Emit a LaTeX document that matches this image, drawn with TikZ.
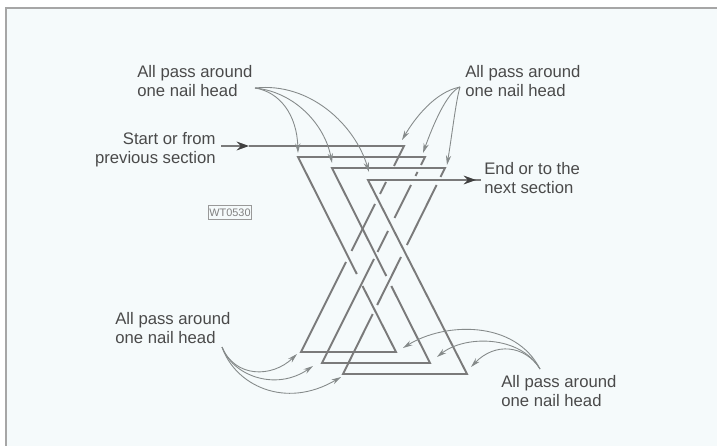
\documentclass[tikz,border=0pt]{standalone}
\usepackage{fontspec}
\setmainfont{Liberation Sans}
\usetikzlibrary{arrows.meta}
\definecolor{paper}{HTML}{F5FAFB}
\definecolor{wirecol}{HTML}{7A7A7A}
\definecolor{pointercol}{HTML}{858A8A}
\definecolor{inkcol}{HTML}{4A4A4A}

\begin{document}
\begin{tikzpicture}[
    x=0.02cm, y=-0.02cm,
    >=Stealth, % Set default arrow tip style
    wire/.style={wirecol, line width=1.1pt, line join=miter}, % Style for the wire
    leadwire/.style={wire, -{Stealth[length=7pt, width=5pt, color=black!75]}}, % Wire with arrow
    pointer/.style={pointercol, line width=0.5pt, -{Stealth[length=5.5pt, width=3pt]}}, % Style for the thin curves
    labelstyle/.style={inkcol, inner sep=0pt, font=\fontsize{9.5}{10.8}\selectfont}, % Style for the notes
    tagstyle/.style={draw=black!40, line width=0.6pt, text=black!50, inner xsep=0.6pt, inner ysep=1.8pt, font=\fontsize{6.2}{7}\selectfont} % Style for the code box
]

    % Paper
    \useasboundingbox (0,0) rectangle (717,446);
    \fill[white] (0,0) rectangle (717,446);
    \fill[paper] (6,8) rectangle (717,446);
    \draw[black!35, line width=0.7pt] (717,8) -- (6,8) -- (6,446);

    % Labels
    \node[labelstyle, align=left, anchor=west] (topleft) at (137,81.5) {All pass around\\one nail head};
    \node[labelstyle, align=left, anchor=west] (topright) at (465,81.5) {All pass around\\one nail head};
    \node[labelstyle, align=right, anchor=east] (startnote) at (216,149.5) {Start or from\\previous section};
    \node[labelstyle, align=left, anchor=west] (endnote) at (484,178) {End or to the\\next section};
    \node[labelstyle, align=left, anchor=west] (bottomleft) at (115,328.5) {All pass around\\one nail head};
    \node[labelstyle, align=left, anchor=west] (bottomright) at (501,391) {All pass around\\one nail head};
    \node[tagstyle] (code) at (230,212.5) {WT0530};

    % Free ends of the curves
    \coordinate (tltip) at (255,88);
    \coordinate (trtip) at (460,87);
    \coordinate (bltip) at (222,347);
    \coordinate (brtip) at (540,369);

    % Nail heads
    \coordinate (tl1) at (298,153);
    \coordinate (tl2) at (332,163);
    \coordinate (tl3) at (369,172);
    \coordinate (tr1) at (402,140);
    \coordinate (tr2) at (423,153);
    \coordinate (tr3) at (447,165);
    \coordinate (bl1) at (297,354);
    \coordinate (bl2) at (313,366);
    \coordinate (bl3) at (341,377);
    \coordinate (br1) at (403,348);
    \coordinate (br2) at (437,357);
    \coordinate (br3) at (471,367);

    % The wire, piece by piece
    \draw[leadwire] (221,146) -- (249,146);
    \draw[wire] (249,146) -- (404,146) -- (394,166);
    \draw[wire] (386,182) -- (380,194);
    \draw[wire] (375,204) -- (351.5,251);
    \draw[wire] (346,262) -- (301,352) -- (396,352) -- (362.5,286);
    \draw[wire] (356.8,274) -- (298,157) -- (425,157) -- (421,165);
    \draw[wire] (417.5,172) -- (415.5,176);
    \draw[wire] (411,185) -- (394.5,218);
    \draw[wire] (388,231) -- (377.5,252);
    \draw[wire] (374,259) -- (322,363) -- (430,363) -- (391.3,286);
    \draw[wire] (386.3,276) -- (332,168) -- (445,168) -- (440.5,177);
    \draw[wire] (436.6,185) -- (406.9,245);
    \draw[wire] (401,257) -- (377.2,305);
    \draw[wire] (372.7,314) -- (343,374) -- (467,374) -- (368,180) -- (476,180);
    \draw[leadwire] (440,180) -- (476,180);
    \draw[wire] (476,180) -- (481,180);

    % Curves, top left
    \draw[pointer] (tltip) .. controls (280,92) and (297,115) .. (tl1);
    \draw[pointer] (tltip) .. controls (295,92) and (325,125) .. (tl2);
    \draw[pointer] (tltip) .. controls (310,82) and (355,125) .. (tl3);

    % Curves, top right
    \draw[pointer] (trtip) .. controls (435,92) and (415,118) .. (tr1);
    \draw[pointer] (trtip) .. controls (447,92) and (433,125) .. (tr2);
    \draw[pointer] (trtip) .. controls (456,100) and (452,135) .. (tr3);

    % Curves, bottom left
    \draw[pointer] (bltip) .. controls (235,378) and (272,378) .. (bl1);
    \draw[pointer] (bltip) .. controls (232,375) and (275,392) .. (bl2);
    \draw[pointer] (bltip) .. controls (235,385) and (285,410) .. (bl3);

    % Curves, bottom right
    \draw[pointer] (brtip) .. controls (515,320) and (445,322) .. (br1);
    \draw[pointer] (brtip) .. controls (520,335) and (465,335) .. (br2);
    \draw[pointer] (brtip) .. controls (525,345) and (495,342) .. (br3);

\end{tikzpicture}
\end{document}
